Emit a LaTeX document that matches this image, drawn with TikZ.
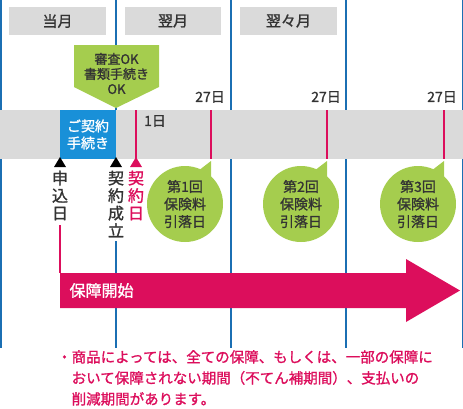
\documentclass[tikz,border=0pt]{standalone}
\usepackage{fontspec}
\setmainfont{Noto Sans CJK JP}[FakeBold=1.2]
\usetikzlibrary{positioning}
\definecolor{lineblue}{HTML}{1B6FB3}
\definecolor{boxblue}{HTML}{1990D8}
\definecolor{leafgreen}{HTML}{A5CD4E}
\definecolor{hotpink}{HTML}{DC0E5C}
\definecolor{bandgray}{HTML}{DADADA}
\definecolor{inkgray}{HTML}{333333}
\begin{document}
\begin{tikzpicture}[x=1pt, y=-1pt, text=inkgray, font=\fontsize{14}{17}\selectfont,
	gridline/.style={lineblue, line width=1.5pt},
	duemark/.style={hotpink, line width=2pt},
	headlabel/.style={text=inkgray, font=\fontsize{15}{17}\selectfont},
	vlabel/.style={align=center, inner sep=0pt, font=\fontsize{16}{17.5}\selectfont},
	bubble/.style={circle, fill=leafgreen, minimum size=76pt, inner sep=0pt, align=center, text=inkgray, font=\fontsize{14}{17.5}\selectfont}]
	\useasboundingbox (0,0) rectangle (463,408);
	\coordinate (gridfoot) at (0,348);
	\coordinate (hoshotop) at (0,273);
	% month columns
	\foreach \x in {0.75,231,346,462.25}
		\draw[gridline] (\x,0) -- (\x,348);
	\draw[gridline] (116,0) -- (116,110);
	\fill[bandgray] (9,7) rectangle (106,35) node[midway, headlabel] (togetsu) {当月};
	\fill[bandgray] (125,7) rectangle (221,35) node[midway, headlabel] (yokugetsu) {翌月};
	\fill[bandgray] (240,7) rectangle (337,35) node[midway, headlabel] (yokuyokugetsu) {翌々月};
	% time band
	\fill[bandgray] (0,110) rectangle (463,159);
	\fill[leafgreen] (74,45) -- (159,45) -- (159,87) -- (116,108) -- (74,87) -- cycle;
	\node[align=center, font=\fontsize{13}{15}\selectfont] (shinsa) at (116.5,73.5) {審査OK\\書類手続き\\OK};
	\fill[boxblue] (60,110) rectangle (116,159) node[midway, align=center, text=white] (tetsuzuki) {ご契約\\手続き};
	\draw[duemark] (136,110) -- (136,160);
	\foreach \x in {211,327,444}
		\draw[duemark] (\x,110) -- (\x,159);
	\node (tsuitachi) at (155,121) {1日};
	\node[anchor=east, inner sep=1pt] (nijushichi1) at (226,97) {27日};
	\node[anchor=east, inner sep=1pt] (nijushichi2) at (342,97) {27日};
	\node[anchor=east, inner sep=1pt] (nijushichi3) at (458,97) {27日};
	% markers
	\fill[black] (60,157) -- (66,167) -- (54,167) -- cycle;
	\fill[black] (116,157) -- (122,167) -- (110,167) -- cycle;
	\fill[hotpink] (136,157) -- (142,167) -- (130,167) -- cycle;
	\node[vlabel] (moshikomi) at (60,195.5) {申\\込\\日};
	\node[vlabel] (seiritsu) at (116,204) {契\\約\\成\\立};
	\node[vlabel, text=hotpink] (keiyakubi) at (136,195.5) {契\\約\\日};
	\draw[hotpink, line width=1.5pt, shorten <=5pt] (moshikomi.south) -- (moshikomi.south |- hoshotop);
	\draw[gridline, shorten <=4pt] (seiritsu.south) -- (seiritsu.south |- gridfoot);
	% coverage arrow
	\fill[hotpink] (60,273) -- (406,273) -- (406,259) -- (460,290.5) -- (406,322) -- (406,308) -- (60,308) -- cycle;
	\node[anchor=west, text=white, font=\fontsize{16}{18}\selectfont] (hosho) at (66,290.5) {保障開始};
	% debit days
	\foreach \cx/\n in {185/1,301/2,418/3} {
		\fill[leafgreen] (\cx+13,171) -- (\cx+26,161) -- (\cx+26,186) -- cycle;
		\node[bubble] (hikiotoshi\n) at (\cx,204) {第\n 回\\保険料\\引落日};
	}
	\node[anchor=north west, inner sep=0pt, align=left, text=hotpink, font=\fontsize{14.5}{21}\selectfont] (chui) at (57,350)
		{・商品によっては、全ての保障、もしくは、一部の保障に\\
		\hspace*{14.5pt}おいて保障されない期間（不てん補期間）、支払いの\\
		\hspace*{14.5pt}削減期間があります。};
\end{tikzpicture}
\end{document}
